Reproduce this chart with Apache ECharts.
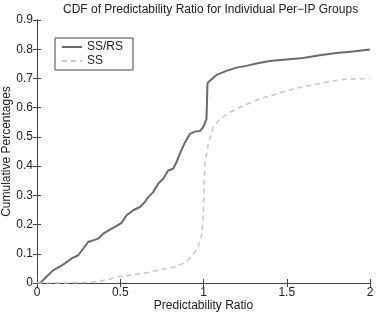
<!DOCTYPE html>
<html>
<head>
<meta charset="utf-8">
<script src="https://cdn.jsdelivr.net/npm/echarts@6/dist/echarts.min.js"></script>
<style>
  html, body { margin: 0; padding: 0; background: #fff; }
  #chart { width: 380px; height: 316px; }
</style>
</head>
<body>
<div id="chart"></div>
<script>
// SS/RS curve
var ratioSsrs = [0, 0.02, 0.048, 0.098, 0.138, 0.168, 0.208, 0.248, 0.278, 0.308, 0.328, 0.368, 0.398, 0.438, 0.468, 0.508,
  0.538, 0.578, 0.618, 0.648, 0.668, 0.698, 0.728, 0.758, 0.788, 0.818, 0.838, 0.858, 0.888, 0.918, 0.948, 0.978, 0.998,
  1.018, 1.024, 1.04, 1.078, 1.138, 1.198, 1.258, 1.318, 1.398, 1.498, 1.598, 1.698, 1.798, 1.898, 2.0];
var cumSsrs = [0, 0, 0.016, 0.044, 0.056, 0.067, 0.084, 0.095, 0.118, 0.141, 0.144, 0.152, 0.169, 0.183, 0.192, 0.206,
  0.232, 0.249, 0.26, 0.277, 0.294, 0.311, 0.34, 0.357, 0.385, 0.391, 0.414, 0.443, 0.48, 0.51, 0.518, 0.52, 0.533,
  0.561, 0.684, 0.693, 0.712, 0.726, 0.737, 0.743, 0.751, 0.76, 0.765, 0.77, 0.779, 0.787, 0.792, 0.799];

// SS curve
var ratioSs = [0, 0.158, 0.308, 0.418, 0.478, 0.558, 0.658, 0.758, 0.838, 0.898, 0.938, 0.968, 0.988, 0.998, 1.003,
  1.009, 1.029, 1.059, 1.099, 1.159, 1.239, 1.339, 1.439, 1.539, 1.659, 1.759, 1.859, 2.0];
var cumSs = [0, 0, 0.002, 0.01, 0.021, 0.027, 0.035, 0.047, 0.056, 0.073, 0.097, 0.124, 0.162, 0.215, 0.328,
  0.41, 0.476, 0.533, 0.561, 0.584, 0.607, 0.63, 0.647, 0.664, 0.678, 0.69, 0.698, 0.699];

var seriesNames = ['SS/RS', 'SS'];
var xTicks = [0, 0.5, 1, 1.5, 2];

function pairs(xs, ys) {
  return xs.map(function (x, i) { return [x, ys[i]]; });
}

var chart = echarts.init(document.getElementById('chart'));
var fontFamily = '"Liberation Sans", Arial, sans-serif';
var axisColor = '#444';

var option = {
  animation: false,
  title: {
    text: 'CDF of Predictability Ratio for Individual Per\u2212IP Groups',
    left: 58,
    top: -1,
    textStyle: { fontSize: 12, fontWeight: 'normal', color: '#222', fontFamily: fontFamily }
  },
  legend: {
    orient: 'vertical',
    left: 55,
    top: 38,
    itemWidth: 20,
    itemHeight: 10,
    itemGap: 2,
    padding: [3, 10, 3, 6],
    borderColor: axisColor,
    borderWidth: 1,
    itemStyle: { opacity: 0 },
    textStyle: { fontSize: 12, color: '#222', fontFamily: fontFamily },
    data: seriesNames
  },
  grid: { left: 37, right: 10, top: 20, bottom: 33, outerBoundsMode: 'none', containLabel: false },
  xAxis: [{
    type: 'value',
    min: 0,
    max: 2,
    interval: 0.5,
    name: 'Predictability Ratio',
    nameLocation: 'middle',
    nameGap: 17,
    nameMoveOverlap: false,
    nameTextStyle: { fontSize: 12, color: '#222', fontFamily: fontFamily },
    axisLine: { lineStyle: { color: axisColor } },
    axisTick: { inside: true, length: 4, lineStyle: { color: axisColor } },
    axisLabel: {
      fontSize: 12, color: '#222', fontFamily: fontFamily, margin: 4,
      formatter: function (v) { return xTicks.indexOf(v) >= 0 ? String(v) : ''; }
    },
    splitLine: { show: false }
  }, {
    type: 'value',
    position: 'top',
    min: 0,
    max: 2,
    interval: 0.5,
    axisLine: { show: true, lineStyle: { color: axisColor } },
    axisTick: { show: true, inside: true, length: 4, lineStyle: { color: axisColor } },
    axisLabel: { show: false },
    splitLine: { show: false }
  }],
  yAxis: [{
    type: 'value',
    min: 0,
    max: 0.9,
    interval: 0.1,
    name: 'Cumulative Percentages',
    nameLocation: 'middle',
    nameGap: 24,
    nameMoveOverlap: false,
    nameTextStyle: { fontSize: 12, color: '#222', fontFamily: fontFamily },
    axisLine: { show: true, lineStyle: { color: axisColor } },
    axisTick: { show: true, inside: true, length: 4, lineStyle: { color: axisColor } },
    axisLabel: {
      fontSize: 12, color: '#222', fontFamily: fontFamily, margin: 4,
      formatter: function (v) { return String(Math.round(v * 10) / 10); }
    },
    splitLine: { show: false }
  }, {
    type: 'value',
    position: 'right',
    min: 0,
    max: 0.9,
    interval: 0.1,
    axisLine: { show: true, lineStyle: { color: axisColor } },
    axisTick: { show: true, inside: true, length: 4, lineStyle: { color: axisColor } },
    axisLabel: { show: false },
    splitLine: { show: false }
  }],
  series: [{
    name: seriesNames[0],
    type: 'line',
    symbol: 'none',
    smooth: false,
    color: '#6b6b6b',
    lineStyle: { width: 2, color: '#6b6b6b' },
    data: pairs(ratioSsrs, cumSsrs)
  }, {
    name: seriesNames[1],
    type: 'line',
    symbol: 'none',
    smooth: false,
    color: '#c8c8c8',
    lineStyle: { width: 1.6, color: '#c8c8c8', type: [5, 4] },
    data: pairs(ratioSs, cumSs)
  }]
};

chart.setOption(option);
</script>
</body>
</html>
